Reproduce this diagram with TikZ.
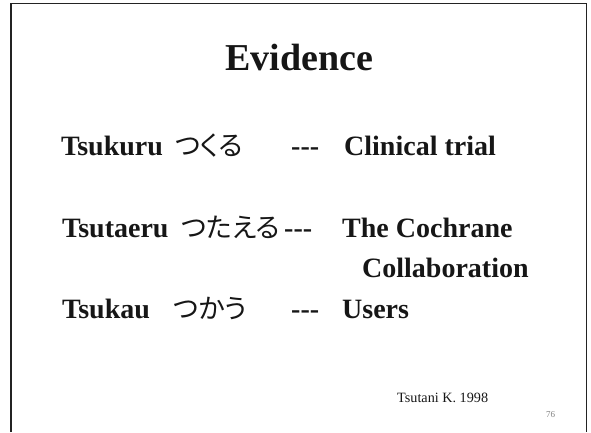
\documentclass[tikz,border=0pt]{standalone}
\usepackage{fontspec}
\setmainfont{Liberation Serif}
\newfontfamily\jafont[RawFeature=+palt]{Noto Sans CJK JP}
\definecolor{clrT}{RGB}{22,22,22}
\definecolor{clrF}{RGB}{35,35,35}
\newcommand{\tridash}{-\kern0pt-\kern0pt-}
\tikzset{
  slidetitle/.style={anchor=base,inner sep=0pt,text=clrT,
    font=\fontsize{38}{40}\selectfont\bfseries},
  term/.style={anchor=base west,inner sep=0pt,text=clrT,
    font=\fontsize{28}{30}\selectfont\bfseries},
  kana/.style={anchor=base west,inner sep=0pt,text=clrT,
    font=\jafont\fontsize{27}{30}\selectfont},
  source/.style={anchor=base west,inner sep=0pt,text=clrT,
    font=\fontsize{14.2}{16}\selectfont},
  pageno/.style={anchor=base west,inner sep=0pt,text=gray,
    font=\fontsize{9}{10}\selectfont},
  frame/.style={line width=1.6pt,draw=clrF}
}
\begin{document}
\begin{tikzpicture}[x=1pt,y=-1pt]
\useasboundingbox (0,0) rectangle (591,432);

% slide frame, open at the bottom
\draw[frame] (11,432) -- (11,3.5) -- (586.5,3.5) -- (586.5,432);

\node[slidetitle] (title) at (299.5,70) {Evidence};

% make
\node[term] (tsukuru) at (61,155) {Tsukuru};
\node[kana] (tsukuruJa) at (175,155) {つくる};
\node[term] (dashA) at (291,155) {\tridash};
\node[term] (trial) at (344,155) {Clinical trial};

% tell
\node[term] (tsutaeru) at (62,237) {Tsutaeru};
\node[kana] (tsutaeruJa) at (181,237) {つたえる};
\node[term] (dashB) at (284,237) {\tridash};
\node[term] (cochrane) at (342,237) {The Cochrane};
\node[term] (collab) at (362,277) {Collaboration};

% use
\node[term] (tsukau) at (62,318) {Tsukau};
\node[kana] (tsukauJa) at (173,318) {つかう};
\node[term] (dashC) at (291,318) {\tridash};
\node[term] (users) at (342,318) {Users};

\node[source] (cite) at (397,402) {Tsutani K. 1998};
\node[pageno] (page) at (546,417) {76};
\end{tikzpicture}
\end{document}
